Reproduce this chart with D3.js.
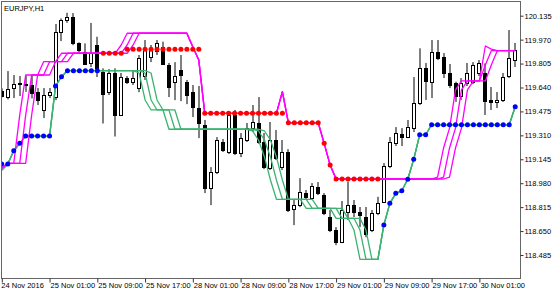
<!DOCTYPE html>
<html><head><meta charset="utf-8">
<script src="https://cdn.jsdelivr.net/npm/d3@7"></script>
<style>
body{margin:0;background:#fff;}
svg{display:block;}
text{font-family:"Liberation Sans",Arial,sans-serif;}
</style>
</head><body>
<svg id="c" width="560" height="294"></svg>
<script>
const chartTitle = "EURJPY,H1";
const opens = [119.615,119.576,119.634,119.664,119.664,119.657,119.608,119.484,119.588,119.576,
 120.024,120.105,120.128,119.944,119.886,119.806,119.933,119.749,119.608,119.737,
 119.450,119.703,119.673,119.636,119.719,119.850,119.886,119.922,119.795,119.677,
 119.760,119.677,119.608,119.498,119.381,118.946,119.057,119.264,119.195,119.450,
 119.188,119.278,119.360,119.395,119.264,119.084,119.278,119.091,119.195,118.801,
 118.829,118.912,118.877,118.953,118.898,118.746,118.657,118.574,118.783,118.829,
 118.783,118.748,118.657,118.774,118.852,119.098,119.257,119.319,119.300,119.360,
 119.531,119.772,119.680,119.886,119.848,119.738,119.668,119.581,119.670,119.680,
 119.738,119.738,119.554,119.542,119.554,119.714,119.829];
const highs = [119.634,119.753,119.726,119.719,119.721,119.726,119.636,119.636,119.636,120.078,
 120.116,120.155,120.153,119.951,119.944,120.085,119.990,119.772,119.767,119.772,
 119.740,119.719,119.760,119.864,119.967,119.933,119.967,119.956,119.809,119.815,
 119.864,119.692,119.657,119.650,119.416,119.091,119.298,119.285,119.477,119.485,
 119.326,119.395,119.519,119.574,119.326,119.402,119.347,119.278,119.215,118.864,
 119.015,118.933,118.981,118.988,118.912,118.795,118.677,118.857,118.990,118.864,
 118.816,118.816,118.795,118.886,119.119,119.298,119.367,119.360,119.416,119.712,
 119.910,119.809,119.967,119.967,119.877,119.802,119.680,119.705,119.809,119.815,
 119.829,119.806,119.643,119.609,119.740,120.036,119.947];
const lows = [119.572,119.558,119.567,119.581,119.610,119.565,119.519,119.429,119.567,119.553,
 119.960,120.086,119.932,119.870,119.795,119.781,119.712,119.392,119.588,119.302,
 119.443,119.664,119.657,119.608,119.692,119.815,119.864,119.795,119.574,119.553,
 119.546,119.525,119.436,119.291,118.912,118.829,119.043,119.195,119.181,119.174,
 119.160,119.264,119.333,119.250,119.077,119.071,119.140,119.071,118.781,118.691,
 118.815,118.864,118.864,118.898,118.760,118.643,118.553,118.567,118.726,118.746,
 118.677,118.608,118.643,118.760,118.843,119.084,119.236,119.236,119.291,119.333,
 119.519,119.554,119.567,119.829,119.705,119.636,119.541,119.554,119.650,119.664,
 119.719,119.450,119.485,119.498,119.540,119.705,119.781];
const closes = [119.581,119.629,119.663,119.668,119.666,119.603,119.553,119.588,119.608,120.024,
 120.105,120.126,119.946,119.893,119.806,119.878,119.774,119.600,119.740,119.450,
 119.714,119.673,119.703,119.841,119.905,119.898,119.944,119.806,119.645,119.719,
 119.726,119.588,119.505,119.395,118.946,119.057,119.278,119.209,119.450,119.188,
 119.291,119.360,119.402,119.264,119.091,119.278,119.153,119.195,118.795,118.829,
 118.919,118.884,118.960,118.912,118.774,118.657,118.574,118.795,118.829,118.783,
 118.760,118.634,118.774,118.845,119.098,119.266,119.326,119.298,119.369,119.531,
 119.772,119.680,119.886,119.848,119.738,119.657,119.576,119.670,119.739,119.795,
 119.806,119.542,119.540,119.557,119.714,119.841,119.898];

const magentaA = [119.085,119.117,119.117,119.450,119.726,119.726,119.726,119.818,119.818,119.818,
 119.876,119.876,119.876,119.876,119.876,119.876,119.876,119.876,119.876,119.876,
 119.933,120.014,120.014,120.014,120.014,120.014,120.014,120.014,120.014,120.014,
 120.014,120.014,119.919,119.829,119.462,119.462,119.462,119.462,119.462,119.462,
 119.462,119.462,119.462,119.462,119.462,119.462,119.462,119.611,119.397,119.397,
 119.397,119.397,119.397,119.397,119.255,119.105,119.009,119.009,119.009,119.009,
 119.009,119.009,119.009,119.009,119.009,119.009,119.009,119.009,119.009,119.009,
 119.009,119.009,119.009,119.022,119.223,119.360,119.623,119.685,119.685,119.685,
 119.685,119.926,119.905,119.894,119.894,119.894,119.894];
const magentaB = [119.085,119.117,119.117,119.117,119.450,119.726,119.726,119.726,119.818,119.818,
 119.818,119.876,119.876,119.876,119.876,119.876,119.876,119.876,119.876,119.876,
 119.876,119.933,120.014,120.014,120.014,120.014,120.014,120.014,120.014,120.014,
 120.014,120.014,119.919,119.829,119.462,119.462,119.462,119.462,119.462,119.462,
 119.462,119.462,119.462,119.462,119.462,119.462,119.462,119.611,119.397,119.397,
 119.397,119.397,119.397,119.397,119.255,119.105,119.009,119.009,119.009,119.009,
 119.009,119.009,119.009,119.009,119.009,119.009,119.009,119.009,119.009,119.009,
 119.009,119.009,119.009,119.009,119.022,119.223,119.360,119.623,119.685,119.685,
 119.685,119.795,119.894,119.894,119.894,119.894,119.894];
const magentaC = [119.085,119.117,119.117,119.117,119.117,119.450,119.726,119.726,119.726,119.818,
 119.818,119.818,119.876,119.876,119.876,119.876,119.876,119.876,119.876,119.876,
 119.876,119.876,119.933,120.014,120.014,120.014,120.014,120.014,120.014,120.014,
 120.014,120.014,119.919,119.829,119.462,119.462,119.462,119.462,119.462,119.462,
 119.462,119.462,119.462,119.462,119.462,119.462,119.462,119.611,119.397,119.397,
 119.397,119.397,119.397,119.397,119.255,119.105,119.009,119.009,119.009,119.009,
 119.009,119.009,119.009,119.009,119.009,119.009,119.009,119.009,119.009,119.009,
 119.009,119.009,119.009,119.009,119.009,119.022,119.223,119.360,119.623,119.685,
 119.685,119.685,119.795,119.894,119.894,119.894,119.894];

const greenA = [119.071,119.112,119.204,119.255,119.305,119.305,119.305,119.305,119.305,119.650,
 119.714,119.756,119.756,119.756,119.756,119.756,119.756,119.756,119.756,119.756,
 119.756,119.756,119.756,119.740,119.554,119.485,119.485,119.485,119.352,119.352,
 119.352,119.352,119.352,119.352,119.352,119.352,119.352,119.352,119.352,119.352,
 119.352,119.352,119.340,119.278,119.161,119.002,118.869,118.869,118.869,118.869,
 118.869,118.807,118.807,118.807,118.807,118.807,118.738,118.738,118.738,118.657,
 118.455,118.455,118.455,118.455,118.692,118.841,118.910,118.928,119.007,119.145,
 119.314,119.314,119.383,119.383,119.383,119.383,119.383,119.383,119.383,119.383,
 119.383,119.383,119.383,119.383,119.383,119.383,119.507];
const greenB = [119.071,119.112,119.204,119.255,119.305,119.305,119.305,119.305,119.305,119.650,
 119.714,119.756,119.756,119.756,119.756,119.756,119.756,119.756,119.756,119.756,
 119.756,119.756,119.756,119.756,119.740,119.554,119.485,119.485,119.485,119.352,
 119.352,119.352,119.352,119.352,119.352,119.352,119.352,119.352,119.352,119.352,
 119.352,119.352,119.352,119.340,119.278,119.161,119.002,118.869,118.869,118.869,
 118.869,118.869,118.807,118.807,118.807,118.807,118.807,118.738,118.738,118.738,
 118.657,118.455,118.455,118.455,118.692,118.841,118.910,118.928,119.007,119.145,
 119.314,119.314,119.383,119.383,119.383,119.383,119.383,119.383,119.383,119.383,
 119.383,119.383,119.383,119.383,119.383,119.383,119.507];
const greenC = [119.071,119.112,119.204,119.255,119.305,119.305,119.305,119.305,119.305,119.650,
 119.714,119.756,119.756,119.756,119.756,119.756,119.756,119.756,119.756,119.756,
 119.756,119.756,119.756,119.756,119.756,119.740,119.554,119.485,119.485,119.485,
 119.352,119.352,119.352,119.352,119.352,119.352,119.352,119.352,119.352,119.352,
 119.352,119.352,119.352,119.352,119.340,119.278,119.161,119.002,118.869,118.869,
 118.869,118.869,118.869,118.807,118.807,118.807,118.807,118.807,118.738,118.738,
 118.738,118.657,118.455,118.455,118.692,118.841,118.910,118.928,119.007,119.145,
 119.314,119.314,119.383,119.383,119.383,119.383,119.383,119.383,119.383,119.383,
 119.383,119.383,119.383,119.383,119.383,119.383,119.507];

const redDots = [null,null,null,null,null,null,null,null,null,null,
 null,null,null,null,null,null,null,119.876,119.876,119.876,
 119.876,119.903,119.903,119.903,119.903,119.903,119.903,119.903,119.903,119.903,
 119.903,119.903,119.903,119.903,119.462,119.462,119.462,119.462,119.462,119.462,
 119.462,119.462,119.462,119.462,119.462,119.462,119.462,119.462,119.397,119.397,
 119.397,119.397,119.397,119.397,119.255,119.105,119.009,119.009,119.009,119.009,
 119.009,119.009,119.009,119.009,null,null,null,null,null,null,
 null,null,null,null,null,null,null,null,null,null,
 null,null,null,null,null,null,null];
const blueDots = [119.112,119.112,119.204,119.255,119.305,119.305,119.305,119.305,119.305,119.650,
 119.714,119.756,119.756,119.756,119.756,119.756,119.756,null,null,null,
 null,null,null,null,null,null,null,null,null,null,
 null,null,null,null,null,null,null,null,null,null,
 null,null,null,null,null,null,null,null,null,null,
 null,null,null,null,null,null,null,null,null,null,
 null,null,null,null,118.692,118.841,118.910,118.928,119.007,119.145,
 119.314,119.314,119.383,119.383,119.383,119.383,119.383,119.383,119.383,119.383,
 119.383,119.383,119.383,119.383,119.383,119.383,119.507];

const yTickValues = [120.135,119.970,119.805,119.640,119.475,119.310,119.145,118.980,118.815,118.650,118.485];
const xTickBars = [0,8,16,24,32,40,48,56,64,72,80];
const xTickLabels = ["24 Nov 2016","25 Nov 01:00","25 Nov 09:00","25 Nov 17:00","28 Nov 01:00","28 Nov 09:00","28 Nov 17:00","29 Nov 01:00","29 Nov 09:00","29 Nov 17:00","30 Nov 01:00"];

const svg = d3.select("#c");
const L = 1.5, T = 1.5, R = 520.5, B = 278.5;
const n = opens.length;
const x = d3.scaleLinear().domain([0, n - 1]).range([1.8, 515.2]);
const y = d3.scaleLinear().domain([118.485, 120.135]).range([255, 15.7]);

svg.append("defs").append("clipPath").attr("id","clip")
  .append("rect").attr("x",L+0.5).attr("y",T+0.5).attr("width",R-L-1).attr("height",B-T-1);

const plot = svg.append("g").attr("clip-path","url(#clip)");

// candles
const idx = d3.range(n);
const cg = plot.append("g");
cg.selectAll("line.w").data(idx).join("line").attr("class","w")
  .attr("x1", i => Math.round(x(i))).attr("x2", i => Math.round(x(i)))
  .attr("y1", i => y(highs[i])).attr("y2", i => y(lows[i]))
  .attr("stroke","#000").attr("stroke-width",1);
cg.selectAll("rect.b").data(idx).join("rect").attr("class","b")
  .attr("x", i => Math.round(x(i)) - 1.5)
  .attr("y", i => Math.round(y(Math.max(opens[i], closes[i]))) + 0.5)
  .attr("width", 3)
  .attr("height", i => Math.max(1, Math.round(Math.abs(y(opens[i]) - y(closes[i])))))
  .attr("fill", i => closes[i] >= opens[i] ? "#fff" : "#000")
  .attr("stroke","#000").attr("stroke-width",1);

// lines
const line = d3.line().defined(d => d != null).x((d,i) => x(i)).y(d => y(d));
const drawLine = (data, color) => plot.append("path").datum(data)
  .attr("d", line).attr("fill","none").attr("stroke", color).attr("stroke-width",1.3)
  .attr("stroke-linejoin","round");
[greenA, greenB, greenC].forEach(s => drawLine(s, "#3cb371"));
[magentaA, magentaB, magentaC].forEach(s => drawLine(s, "#ff00ff"));

// dots
const drawDots = (data, color) => plot.append("g").selectAll("circle")
  .data(data.map((v,i) => ({v,i})).filter(d => d.v != null)).join("circle")
  .attr("cx", d => x(d.i)).attr("cy", d => y(d.v)).attr("r", 2.5).attr("fill", color);
drawDots(redDots, "#ff0000");
drawDots(blueDots, "#0000ff");

// frame
svg.append("rect").attr("x",L).attr("y",T).attr("width",R-L).attr("height",B-T)
  .attr("fill","none").attr("stroke","#666").attr("stroke-width",1);

// right axis
const ya = svg.append("g").attr("transform",`translate(${R},0)`)
  .call(d3.axisRight(y).tickValues(yTickValues).tickSize(3).tickPadding(1).tickFormat(d3.format(".3f")));
ya.select(".domain").remove();
ya.selectAll("line").attr("stroke","#333");
ya.selectAll("text").attr("font-size","7.5px").attr("font-family","Liberation Sans, Arial, sans-serif").attr("fill","#000");

// bottom axis
const xa = svg.append("g").attr("transform",`translate(0,${B})`)
  .call(d3.axisBottom(x).tickValues(xTickBars).tickSize(4).tickPadding(0.5).tickFormat((d,i) => xTickLabels[i]));
xa.select(".domain").remove();
xa.selectAll("line").attr("stroke","#333");
xa.selectAll("text").attr("font-size","7.5px").attr("font-family","Liberation Sans, Arial, sans-serif")
  .attr("fill","#000").attr("text-anchor","start").attr("x", (d,i) => i === 0 ? -1 : 0.5);

// title
svg.append("text").attr("x",4).attr("y",10.5).attr("font-size","7.5px").attr("fill","#000").text(chartTitle);
</script>
</body></html>
